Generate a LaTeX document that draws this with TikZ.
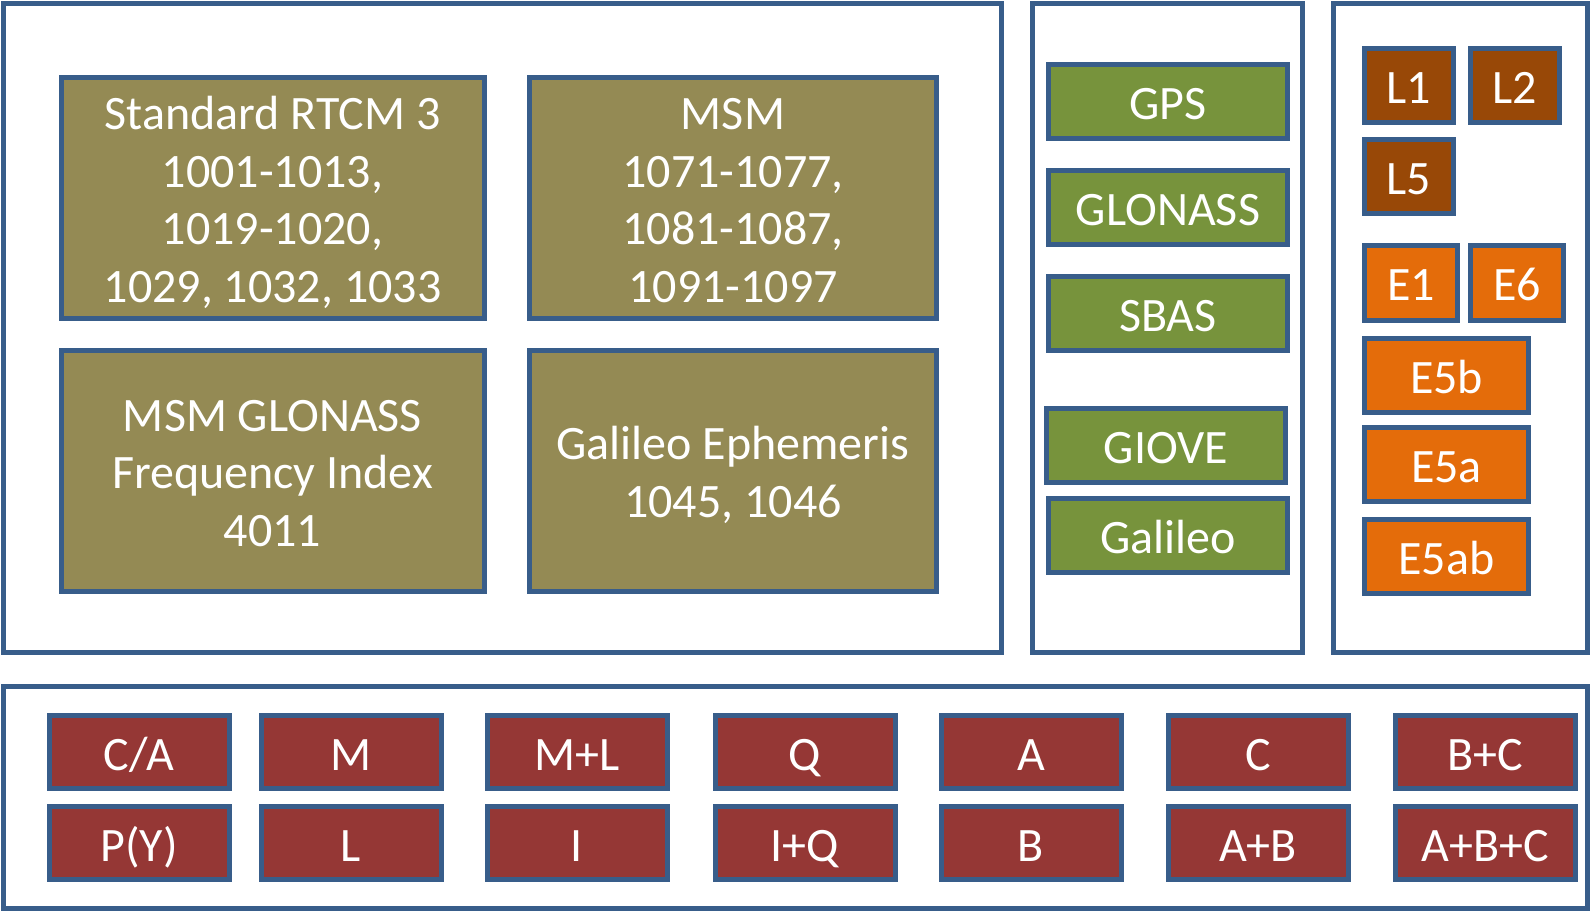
\documentclass[tikz,border=0pt]{standalone}
\usepackage{fontspec}
\setmainfont{Carlito}
\definecolor{edgeblue}{HTML}{385D8A}
\definecolor{olivefill}{HTML}{948A54}
\definecolor{greenfill}{HTML}{77933C}
\definecolor{brownfill}{HTML}{984807}
\definecolor{orangefill}{HTML}{E46C0A}
\definecolor{redfill}{HTML}{953735}
\newcommand{\capstrut}{\rule{0pt}{46pt}}

\begin{document}
\begin{tikzpicture}[x=1pt,y=-1pt]
  \tikzstyle{panel}=[draw=edgeblue,line width=5pt]
  \tikzstyle{cell}=[draw=edgeblue,line width=5pt,text=white,inner sep=0pt,
    font=\fontsize{48}{57.5}\selectfont,align=center,
    execute at begin node={\capstrut},
    execute at end node={\rule[-10pt]{0pt}{10pt}}]
  \tikzstyle{msgbox}=[cell,fill=olivefill,minimum height=241pt]
  \tikzstyle{sysbox}=[cell,fill=greenfill,minimum width=239pt,minimum height=74pt]
  \tikzstyle{gpsband}=[cell,fill=brownfill,minimum width=89pt,minimum height=74pt]
  \tikzstyle{galband}=[cell,fill=orangefill,minimum height=74pt]
  \tikzstyle{codebox}=[cell,fill=redfill,minimum width=180pt,minimum height=73pt]
  \useasboundingbox (0,0) rectangle (1591,912);

  % frames
  \draw[panel] (3.5,4) rectangle (1001,652.5);
  \draw[panel] (1032.5,4) rectangle (1302.5,652.5);
  \draw[panel] (1333.5,4) rectangle (1587.5,652.5);
  \draw[panel] (3.5,686.5) rectangle (1587.5,908.5);

  % message types
  \node[msgbox,minimum width=423pt] (rtcm) at (272.5,198) {\capstrut Standard RTCM 3\\1001-1013,\\1019-1020,\\1029, 1032, 1033};
  \node[msgbox,minimum width=407pt] (msm) at (733,198) {\capstrut MSM\\1071-1077,\\1081-1087,\\1091-1097};
  \node[msgbox,minimum width=423pt] (glofreq) at (272.5,470.5) {\capstrut MSM GLONASS\\Frequency Index\\4011};
  \node[msgbox,minimum width=407pt] (galeph) at (733,470.5) {\capstrut Galileo Ephemeris\\1045, 1046};

  % systems
  \node[sysbox] (gps) at (1168,101.5) {GPS};
  \node[sysbox] (glonass) at (1168,208) {GLONASS};
  \node[sysbox] (sbas) at (1168,313.5) {SBAS};
  \node[sysbox] (giove) at (1166,445.5) {GIOVE};
  \node[sysbox] (galileo) at (1168,535.5) {Galileo};

  % frequency bands
  \node[gpsband] (l1) at (1409,86) {L1};
  \node[gpsband] (l2) at (1515,86) {L2};
  \node[gpsband] (l5) at (1409,177) {L5};
  \node[galband,minimum width=93pt] (e1) at (1411,283) {E1};
  \node[galband,minimum width=93pt] (e6) at (1517,283) {E6};
  \node[galband,minimum width=164pt] (e5b) at (1446.5,375) {E5b};
  \node[galband,minimum width=164pt] (e5a) at (1446.5,464.5) {E5a};
  \node[galband,minimum width=164pt] (e5ab) at (1446.5,556) {E5ab};

  % signal codes
  \node[codebox] (ca) at (139,752) {C/A};
  \node[codebox] (py) at (139,843) {P(Y)};
  \node[codebox] (m) at (351,752) {M};
  \node[codebox] (l) at (351,843) {L};
  \node[codebox] (ml) at (577,752) {M+L};
  \node[codebox] (i) at (577,843) {I};
  \node[codebox] (q) at (805,752) {Q};
  \node[codebox] (iq) at (805,843) {I+Q};
  \node[codebox] (a) at (1031,752) {A};
  \node[codebox] (b) at (1031,843) {B};
  \node[codebox] (c) at (1258,752) {C};
  \node[codebox] (ab) at (1258,843) {A+B};
  \node[codebox] (bc) at (1485,752) {B+C};
  \node[codebox] (abc) at (1485,843) {A+B+C};
\end{tikzpicture}
\end{document}
